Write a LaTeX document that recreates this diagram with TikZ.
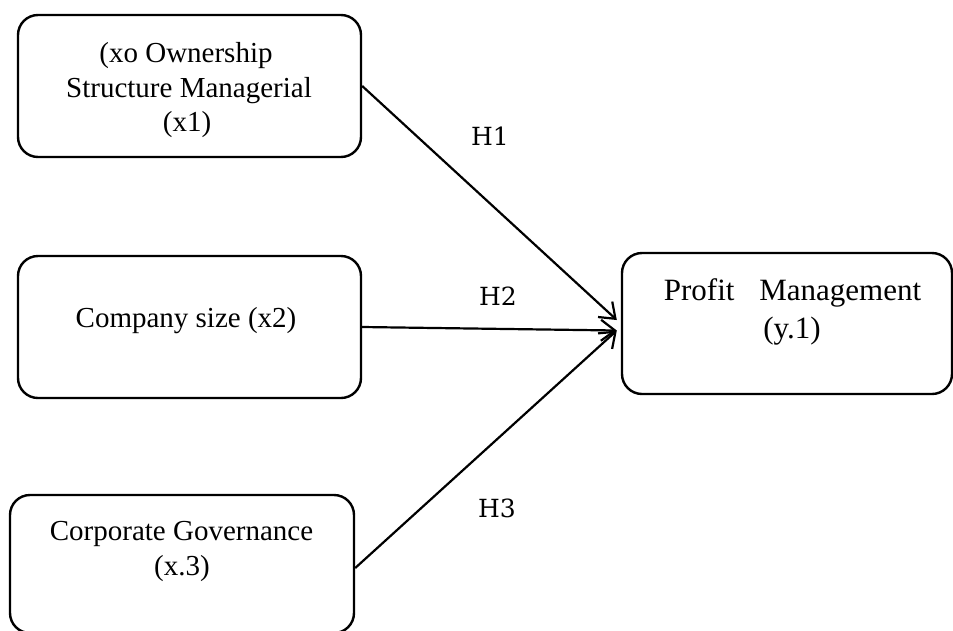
\documentclass[tikz,border=0pt]{standalone}
\usepackage{fontspec}
\setmainfont{Liberation Serif}
\newfontfamily\hfont{DejaVu Serif}
\usetikzlibrary{arrows.meta}
\tikzset{
  box/.style={draw=black, line width=2.4pt, rounded corners=20pt, inner sep=0pt},
  txt/.style={anchor=base, inner sep=0pt, font=\fontsize{29}{35}\selectfont},
  bigtxt/.style={anchor=base, inner sep=0pt, font=\fontsize{31}{37}\selectfont},
  hlab/.style={anchor=base, inner sep=0pt, font=\hfont\fontsize{25}{30}\selectfont},
  conn/.style={line width=2.2pt, -{Straight Barb[length=14pt,width=21pt,line width=2.2pt]}}
}
\begin{document}
\begin{tikzpicture}[x=1pt, y=-1pt]
\useasboundingbox (0,0) rectangle (953,630);
% boxes
\node[box, minimum width=343pt, minimum height=142pt] (b1) at (189.5,86) {};
\node[box, minimum width=343pt, minimum height=142pt] (b2) at (189.5,327) {};
\node[box, minimum width=344pt, minimum height=138pt] (b3) at (182,564) {};
\node[box, minimum width=330pt, minimum height=141pt] (b4) at (787,323.5) {};
% texts
\node[txt] (t1a) at (186,62) {(xo Ownership};
\node[txt] (t1b) at (189,97) {Structure Managerial};
\node[txt] (t1c) at (187,131) {(x1)};
\node[txt] (t2) at (186,327) {Company size (x2)};
\node[txt] (t3a) at (181.5,540) {Corporate Governance};
\node[txt] (t3b) at (182,575) {(x.3)};
\node[bigtxt] (t4a) at (792.5,300) {Profit\hspace{0.8em}Management};
\node[bigtxt] (t4b) at (792,338) {(y.1)};
% hypothesis labels
\node[hlab] (h1) at (490,145) {H1};
\node[hlab] (h2) at (498,305) {H2};
\node[hlab] (h3) at (497,517) {H3};
% connectors
\coordinate (e1) at ([shift={(-4,-3.5)}]b4.west);
\coordinate (e2) at ([shift={(-4,7)}]b4.west);
\draw[conn] (b1.east) -- (e1);
\draw[conn] (b2.east) -- (e2);
\draw[conn] ([yshift=-4pt]b3.east) -- (e2);
\end{tikzpicture}
\end{document}
